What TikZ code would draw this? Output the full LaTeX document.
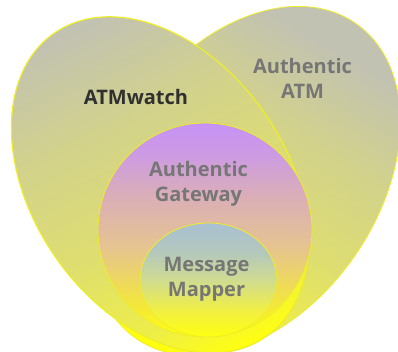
\documentclass[tikz,border=0pt]{standalone}
\usepackage{fontspec}
\setmainfont{Open Sans}
\definecolor{cY}{HTML}{FFFF10}
\definecolor{L1}{HTML}{EEEE48}
\definecolor{L2}{HTML}{DEDE70}
\definecolor{L3}{HTML}{D2D28C}
\definecolor{L4}{HTML}{C2C2B2}
\definecolor{G1}{HTML}{F4E838}
\definecolor{G2}{HTML}{E6C490}
\definecolor{G3}{HTML}{DAAEB8}
\definecolor{G4}{HTML}{CC9AE4}
\definecolor{G5}{HTML}{C692F6}
\definecolor{M1}{HTML}{F2F040}
\definecolor{M2}{HTML}{D0DC90}
\definecolor{M3}{HTML}{B4C8BC}
\definecolor{M4}{HTML}{A8C0D2}
\definecolor{edge}{HTML}{EEEE28}
\definecolor{atmdark}{HTML}{303030}
\definecolor{lblgray}{HTML}{767676}
\pgfdeclareverticalshading{leftsh}{100bp}{color(0bp)=(cY); color(25bp)=(cY); color(32bp)=(L1); color(45bp)=(L2); color(60bp)=(L3); color(74bp)=(L4); color(100bp)=(L4)}
\pgfdeclareverticalshading{rightsh}{100bp}{color(0bp)=(cY); color(25bp)=(cY); color(32bp)=(L1); color(45bp)=(L2); color(60bp)=(L3); color(74bp)=(L4); color(100bp)=(L4)}
\pgfdeclareverticalshading{gatesh}{100bp}{color(0bp)=(cY); color(25bp)=(cY); color(32bp)=(G1); color(46bp)=(G2); color(58bp)=(G3); color(68bp)=(G4); color(75bp)=(G5); color(100bp)=(G5)}
\pgfdeclareverticalshading{mapsh}{100bp}{color(0bp)=(cY); color(25bp)=(cY); color(36bp)=(M1); color(50bp)=(M2); color(62bp)=(M3); color(75bp)=(M4); color(100bp)=(M4)}
\begin{document}
\begin{tikzpicture}[x=1pt,y=1pt,
  setshape/.style={draw=edge, line width=0.8pt},
  lbl/.style={font=\fontsize{20}{25}\selectfont\bfseries, text=lblgray, align=center, inner sep=0pt}]
\useasboundingbox (0,0) rectangle (398,352);
\clip (0,0) rectangle (398,352);
% Authentic ATM (right ellipse)
\path[setshape, shading=rightsh, shading angle=-30, rotate around={55:(246,171)}]
  (246,171) ellipse [x radius=192, y radius=132];
% ATMwatch (left ellipse)
\path[setshape, line width=1.2pt, shading=leftsh, shading angle=25, rotate around={-55:(160,167)}]
  (160,167) ellipse [x radius=185, y radius=127];
% Authentic Gateway
\path[setshape, shading=gatesh] (205,122) circle [radius=107];
% Message Mapper
\path[setshape, shading=mapsh] (208.5,72) ellipse [x radius=68.5, y radius=57];
% labels
\node[lbl, text=atmdark, anchor=base] (atmwatch) at (136,247) {ATMwatch};
\node[lbl, anchor=base] (authatm) at (302.5,253) {Authentic\\ATM};
\node[lbl, anchor=base] (authgw) at (198.5,150) {Authentic\\Gateway};
\node[lbl, anchor=base] (msgmap) at (206.5,55) {Message\\Mapper};
\end{tikzpicture}
\end{document}
